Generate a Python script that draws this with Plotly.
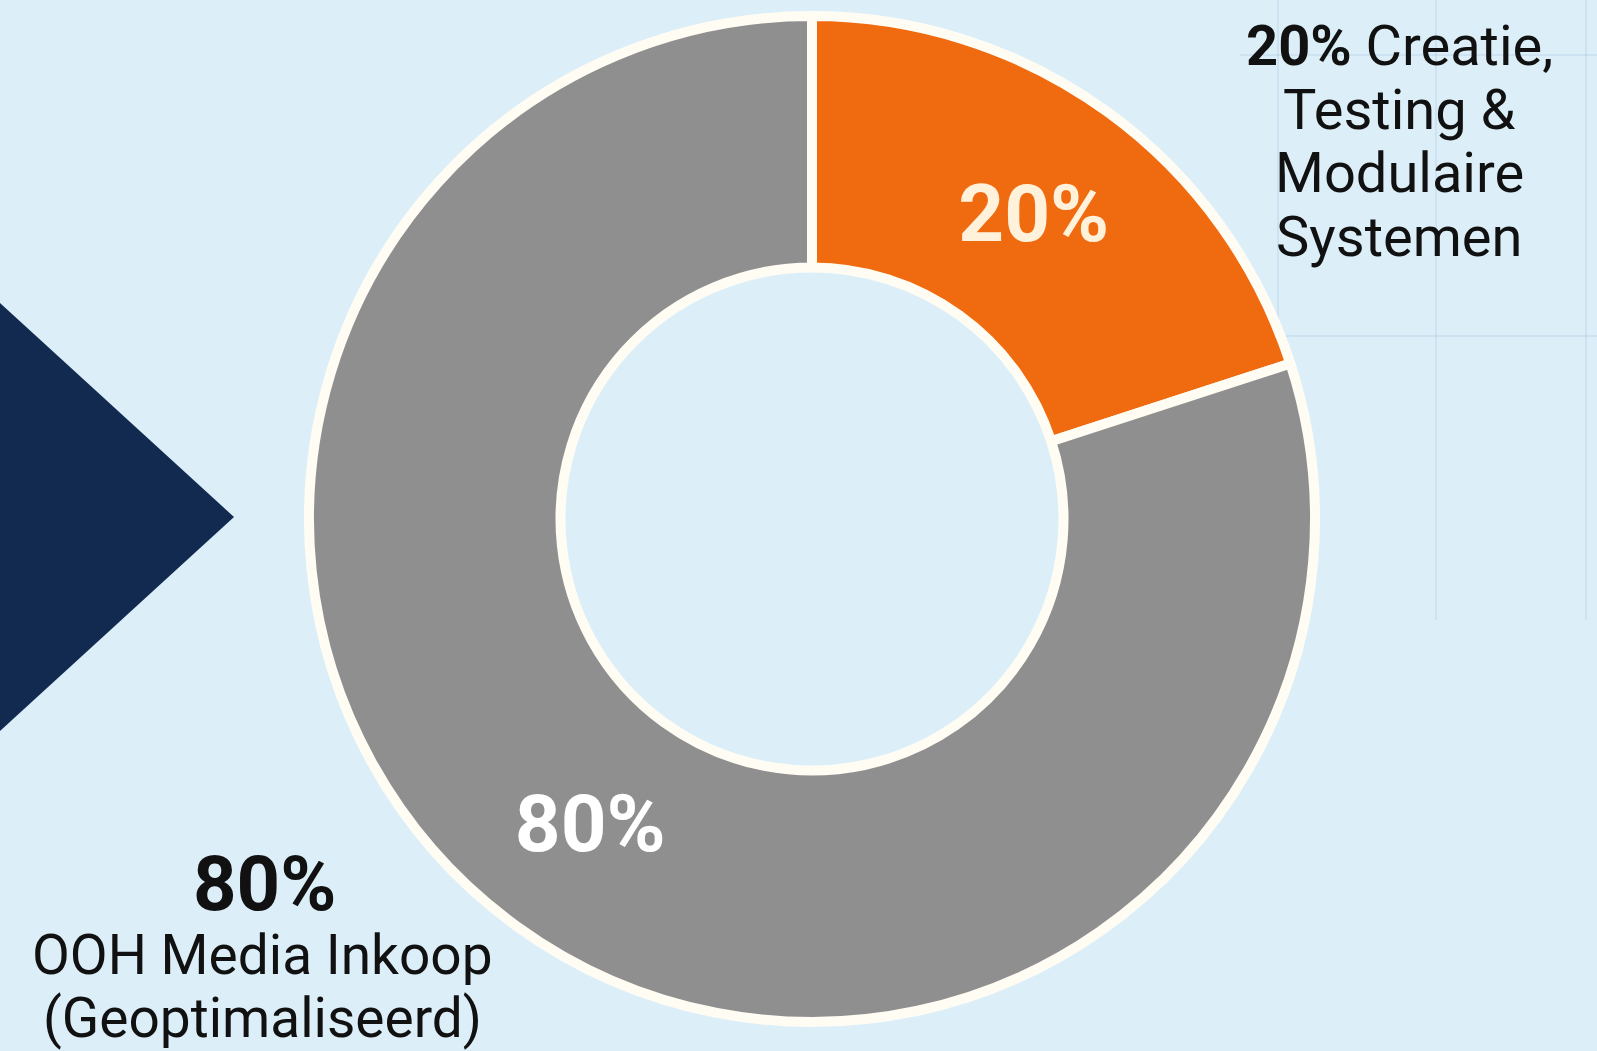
import plotly.graph_objects as go

W, H = 1597, 1051

# ---- data ----
labels = ["Creatie, Testing & Modulaire Systemen", "OOH Media Inkoop (Geoptimaliseerd)"]
values = [20, 80]
inside_text = ["20%", "80%"]
slice_colors = ["#F06A10", "#8F8F8F"]
inside_text_colors = ["#FFF1DA", "#FFFFFF"]

top_label_pct = "20%"
top_label_lines = ["Creatie,", "Testing &", "Modulaire", "Systemen"]
bottom_label_pct = "80%"
bottom_label_lines = ["OOH Media Inkoop", "(Geoptimaliseerd)"]

BG = "#DCEFF9"
NAVY = "#122A50"
FONT = "Roboto"

def px(x):
    return x / W

def py(y):
    return 1 - y / H

# donut geometry (pixels)
cx, cy, r = 812, 519, 503
fig = go.Figure()
fig.add_trace(go.Pie(
    labels=labels,
    values=values,
    text=inside_text,
    textinfo="text",
    textposition="inside",
    insidetextorientation="horizontal",
    textfont=dict(family=FONT, size=80, color=inside_text_colors, weight="bold"),
    marker=dict(colors=slice_colors, line=dict(color="#FFFCF4", width=10)),
    hole=0.50,
    sort=False,
    direction="clockwise",
    rotation=0,
    showlegend=False,
    hoverinfo="skip",
    domain=dict(x=[px(cx - r), px(cx + r)], y=[py(cy + r), py(cy - r)]),
))

shapes = []
# faint background grid lines (top right)
grid_col = "rgba(140,175,200,0.22)"
for gx, y0, y1 in [(1278, 0, 620), (1436, 0, 620), (1586, 0, 620)]:
    shapes.append(dict(type="line", xref="paper", yref="paper",
                       x0=px(gx), x1=px(gx), y0=py(y0), y1=py(y1),
                       line=dict(color=grid_col, width=1.5), layer="below"))
for gy in [55, 336]:
    shapes.append(dict(type="line", xref="paper", yref="paper",
                       x0=px(1240), x1=1, y0=py(gy), y1=py(gy),
                       line=dict(color=grid_col, width=1.5), layer="below"))
# navy arrow triangle
shapes.append(dict(type="path", xref="paper", yref="paper",
                   path=f"M 0 {py(303)} L {px(234)} {py(517)} L 0 {py(731)} Z",
                   fillcolor=NAVY, line=dict(width=0), layer="above"))

annotations = []
# top-right label
ys = [46, 110, 173, 237]
for i, (line, y) in enumerate(zip(top_label_lines, ys)):
    txt = f"<b>{top_label_pct}</b> {line}" if i == 0 else line
    annotations.append(dict(text=txt, xref="paper", yref="paper", x=px(1399), y=py(y),
                            xanchor="center", yanchor="middle", showarrow=False,
                            font=dict(family=FONT, size=56, color="#111111")))
# bottom-left label
annotations.append(dict(text=f"<b>{bottom_label_pct}</b>", xref="paper", yref="paper",
                        x=px(264), y=py(884), xanchor="center", yanchor="middle",
                        showarrow=False, font=dict(family=FONT, size=76, color="#111111")))
for line, y in zip(bottom_label_lines, [955, 1018]):
    annotations.append(dict(text=line, xref="paper", yref="paper", x=px(262), y=py(y),
                            xanchor="center", yanchor="middle", showarrow=False,
                            font=dict(family=FONT, size=55, color="#111111")))

fig.update_layout(
    width=W, height=H,
    margin=dict(l=0, r=0, t=0, b=0),
    paper_bgcolor=BG, plot_bgcolor=BG,
    shapes=shapes, annotations=annotations,
    showlegend=False,
)
fig.write_html("out.html")
